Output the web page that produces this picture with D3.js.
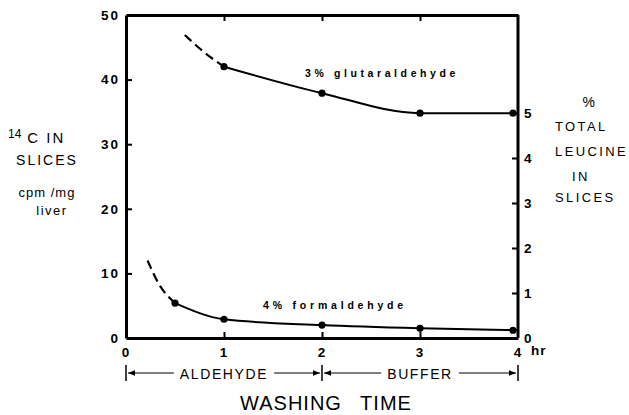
<!DOCTYPE html>
<html>
<head>
<meta charset="utf-8">
<script src="https://cdn.jsdelivr.net/npm/d3@7"></script>
<style>
  html, body { margin: 0; padding: 0; background: #fff; }
  svg { display: block; font-family: "Liberation Sans", Arial, sans-serif; }
</style>
</head>
<body>
<svg id="chart" width="629" height="415"></svg>
<script>
// ---------- data ----------
const hourTicks = [0, 1, 2, 3, 4];
const cpmTicks = [0, 10, 20, 30, 40, 50];
const pctTicks = [0, 1, 2, 3, 4, 5];

// 3% glutaraldehyde
const glutDashX = [0.6, 0.8, 1];
const glutDashY = [46.9, 44.2, 42.0];
const glutX = [1, 2, 3, 4];
const glutY = [42.0, 37.9, 34.8, 34.8];

// 4% formaldehyde
const formDashX = [0.22, 0.33, 0.5];
const formDashY = [12.0, 8.5, 5.4];
const formX = [0.5, 1, 2, 3, 4];
const formY = [5.4, 2.9, 2.0, 1.5, 1.2];

const phaseNames = ["ALDEHYDE", "BUFFER"];
const phaseStart = [0, 2];
const phaseEnd = [2, 4];

// ---------- scales ----------
const svg = d3.select("#chart");
const x = d3.scaleLinear().domain([0, 4]).range([126, 518]);
const yL = d3.scaleLinear().domain([0, 50]).range([338, 15]);
const yR = d3.scaleLinear().domain([0, 5]).range([338, 113]);

const tickFont = "13.5px";

function styleAxis(g) {
  g.select(".domain").attr("stroke", "#000").attr("stroke-width", 3);
  g.selectAll(".tick line").attr("stroke", "#000").attr("stroke-width", 2);
  g.selectAll(".tick text")
    .attr("fill", "#000")
    .style("font-size", tickFont)
    .style("font-weight", "bold")
    .style("letter-spacing", "2px");
}

// left axis
svg.append("g")
  .attr("transform", `translate(${x(0)},0)`)
  .call(d3.axisLeft(yL).tickValues(cpmTicks).tickSize(-6).tickSizeOuter(0).tickPadding(6).tickFormat(d3.format("d")))
  .call(styleAxis)
  .call(g => g.selectAll(".tick").filter(d => d === 50 || d === 0).select("line").remove());

// right axis
svg.append("g")
  .attr("transform", `translate(${x(4)},0)`)
  .call(d3.axisRight(yR).tickValues(pctTicks).tickSize(-6).tickSizeOuter(0).tickPadding(6).tickFormat(d3.format("d")))
  .call(styleAxis)
  .call(g => g.select(".domain").attr("d", `M0,${yL(50)}V${yL(0)}`));

// bottom axis
svg.append("g")
  .attr("transform", `translate(0,${yL(0)})`)
  .call(d3.axisBottom(x).tickValues(hourTicks).tickSize(-6).tickSizeOuter(0).tickPadding(9).tickFormat(d3.format("d")))
  .call(styleAxis)
  .call(g => g.selectAll(".tick").filter(d => d === 0 || d === 4).select("line").remove());

// top axis (ticks only)
svg.append("g")
  .attr("transform", `translate(0,${yL(50)})`)
  .call(d3.axisTop(x).tickValues([1, 2, 3]).tickSize(-6).tickSizeOuter(0).tickFormat(""))
  .call(styleAxis);

// "hr" unit
svg.append("text").attr("x", x(4) + 13).attr("y", 355)
  .style("font-size", "13.5px").style("font-weight", "bold").style("letter-spacing", "1px")
  .text("hr");

// ---------- curves ----------
const lineL = d3.line().x(d => x(d[0])).y(d => yL(d[1])).curve(d3.curveMonotoneX);
const zip = (a, b) => a.map((v, i) => [v, b[i]]);

function drawSeries(dx, dy, sx, sy) {
  svg.append("path").datum(zip(dx, dy))
    .attr("d", lineL).attr("fill", "none").attr("stroke", "#000")
    .attr("stroke-width", 2.2).attr("stroke-dasharray", "9,5");
  svg.append("path").datum(zip(sx, sy))
    .attr("d", lineL).attr("fill", "none").attr("stroke", "#000")
    .attr("stroke-width", 2);
  svg.append("g").selectAll("circle").data(zip(sx, sy)).join("circle")
    .attr("cx", d => x(d[0]) - (d[0] === 4 ? 5 : 0)).attr("cy", d => yL(d[1]))
    .attr("r", 3.6).attr("fill", "#000");
}
drawSeries(glutDashX, glutDashY, glutX, glutY);
drawSeries(formDashX, formDashY, formX, formY);

// series labels
svg.append("text").attr("x", 305).attr("y", 77)
  .style("font-size", "10.5px").style("font-weight", "bold").style("letter-spacing", "3.6px")
  .text("3% glutaraldehyde");
svg.append("text").attr("x", 263).attr("y", 309)
  .style("font-size", "10.5px").style("font-weight", "bold").style("letter-spacing", "3.8px")
  .text("4% formaldehyde");

// ---------- phase brackets ----------
const by = 373;
const defs = svg.append("defs");
defs.append("marker").attr("id", "arr").attr("viewBox", "0 0 10 10")
  .attr("refX", 10).attr("refY", 5).attr("markerWidth", 7).attr("markerHeight", 7)
  .attr("markerUnits", "userSpaceOnUse").attr("orient", "auto")
  .append("path").attr("d", "M0,1L10,5L0,9Z").attr("fill", "#000");

const phaseG = svg.append("g");
[0, 2, 4].forEach(h => {
  phaseG.append("line").attr("x1", x(h)).attr("x2", x(h)).attr("y1", by - 8).attr("y2", by + 8)
    .attr("stroke", "#000").attr("stroke-width", 1.5);
});
phaseNames.forEach((name, i) => {
  const x0 = x(phaseStart[i]), x1 = x(phaseEnd[i]);
  const cx = (x0 + x1) / 2;
  const t = phaseG.append("text").attr("x", cx).attr("y", by + 5.5)
    .attr("text-anchor", "middle")
    .style("font-size", "14px").style("letter-spacing", "1.6px")
    .text(name);
  const w = t.node().getComputedTextLength();
  phaseG.append("line").attr("x1", cx - w / 2 - 6).attr("x2", x0 + 2).attr("y1", by).attr("y2", by)
    .attr("stroke", "#000").attr("stroke-width", 1.2).attr("marker-end", "url(#arr)");
  phaseG.append("line").attr("x1", cx + w / 2 + 6).attr("x2", x1 - 2).attr("y1", by).attr("y2", by)
    .attr("stroke", "#000").attr("stroke-width", 1.2).attr("marker-end", "url(#arr)");
});

// ---------- axis titles ----------
svg.append("text").attr("x", 326).attr("y", 410).attr("text-anchor", "middle")
  .style("font-size", "20px").style("letter-spacing", "1px").style("word-spacing", "12px")
  .text("WASHING TIME");

const lt = svg.append("g").style("font-size", "14px").style("letter-spacing", "2px").attr("text-anchor", "middle");
const l1 = lt.append("text").attr("x", 8).attr("y", 143).attr("text-anchor", "start");
l1.append("tspan").attr("dy", "-5").style("font-size", "12px").style("letter-spacing", "0px").text("14");
l1.append("tspan").attr("dy", "5").attr("dx", "6").style("font-size", "15px").text("C IN");
lt.append("text").attr("x", 47).attr("y", 165).text("SLICES");
lt.append("text").attr("x", 47).attr("y", 197).style("font-size", "13px").style("letter-spacing", "1px").text("cpm /mg");
lt.append("text").attr("x", 52).attr("y", 215).style("font-size", "13px").style("letter-spacing", "1.5px").text("liver");

const rt = svg.append("g").style("font-size", "13px").style("letter-spacing", "2.4px");
rt.append("text").attr("x", 590).attr("y", 107).attr("text-anchor", "middle").style("font-size", "14px").text("%");
rt.append("text").attr("x", 555).attr("y", 131).text("TOTAL");
rt.append("text").attr("x", 555).attr("y", 156).text("LEUCINE");
rt.append("text").attr("x", 581).attr("y", 181).attr("text-anchor", "middle").text("IN");
rt.append("text").attr("x", 555).attr("y", 202).text("SLICES");
</script>
</body>
</html>
